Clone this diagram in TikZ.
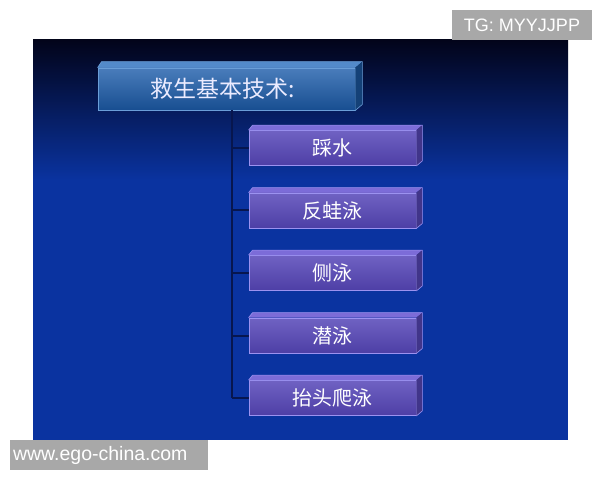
\documentclass[tikz,border=0pt]{standalone}
\usepackage{fontspec}
\setmainfont{Liberation Sans}
\newfontfamily\cjk{Noto Sans CJK SC}
\usetikzlibrary{calc,positioning}
\definecolor{slideblue}{HTML}{0A33A0}
\definecolor{slidetop}{HTML}{02041A}
\definecolor{headfill}{HTML}{1C5CAA}
\definecolor{headedge}{HTML}{6A9ED8}
\definecolor{itemfill}{HTML}{5646B8}
\definecolor{itemedge}{HTML}{9C92F0}
\definecolor{itemtop}{HTML}{7C6CD8}
\definecolor{linkcol}{HTML}{07164E}
\definecolor{markgray}{HTML}{A8A8A8}
\tikzset{
  headbox/.style={draw=headedge, line width=0.8pt, top color=headfill!80!white, bottom color=headfill!85!black,
    minimum width=257pt, minimum height=42pt, inner sep=0pt, text=white!92!blue,
    font=\cjk\fontsize{23}{23}\selectfont},
  itembox/.style={draw=itemedge, line width=0.8pt, top color=itemfill!85!white, bottom color=itemfill!90!black,
    minimum width=167pt, minimum height=35pt, inner sep=0pt, text=white,
    font=\cjk\fontsize{20}{20}\selectfont},
  markbox/.style={fill=markgray, text=white, inner sep=0pt},
  link/.style={draw=linkcol, line width=2pt}
}
\begin{document}
\begin{tikzpicture}[x=1pt,y=1pt]
\useasboundingbox (0,0) rectangle (600,480);
\fill[white] (0,0) rectangle (600,480);
% slide background
\fill[slideblue] (33,40) rectangle (568,440);
\shade[top color=slidetop, bottom color=slideblue] (33,300) rectangle (568,440);
% title box
\node[headbox] (head) at (226.5,391) {\hspace*{-8pt}救生基本技术:};
\fill[headedge!70!headfill] (head.north west) -- ++(4,6) -- ($(head.north east)+(7,6)$) -- (head.north east) -- cycle;
\fill[headfill!70!black] (head.north east) -- ++(7,6) -- ($(head.south east)+(7,6)$) -- (head.south east) -- cycle;
\draw[headedge, line width=0.6pt] (head.north west) -- ++(4,6) -- ($(head.north east)+(7,6)$) -- ($(head.south east)+(7,6)$) -- (head.south east);
% items
\coordinate (trunk) at (232,0);
\foreach \name/\y/\txt in {tread/332/踩水, frog/269.5/反蛙泳, side/207/侧泳, dive/144.5/潜泳, crawl/82/抬头爬泳}{
  \node[itembox] (\name) at (332.5,\y) {\txt};
  \fill[itemtop] (\name.north west) -- ++(4,5) -- ($(\name.north east)+(6,5)$) -- (\name.north east) -- cycle;
  \fill[itemfill!75!black] (\name.north east) -- ++(6,5) -- ($(\name.south east)+(6,5)$) -- (\name.south east) -- cycle;
  \draw[itemedge, line width=0.6pt] (\name.north west) -- ++(4,5) -- ($(\name.north east)+(6,5)$) -- ($(\name.south east)+(6,5)$) -- (\name.south east);
  \draw[link] (trunk |- \name) -- (\name.west);
}
\draw[link] (trunk |- head.south) -- (trunk |- crawl);
% watermarks
\node[markbox, minimum width=140pt, minimum height=30pt, font=\fontsize{18}{18}\selectfont] (tg) at (522,455) {TG: MYYJJPP};
\node[markbox, minimum width=198pt, minimum height=30pt, text width=192pt, align=left, font=\fontsize{19.5}{19.5}\selectfont] (site) at (109,25) {www.ego-china.com};
\end{tikzpicture}
\end{document}
